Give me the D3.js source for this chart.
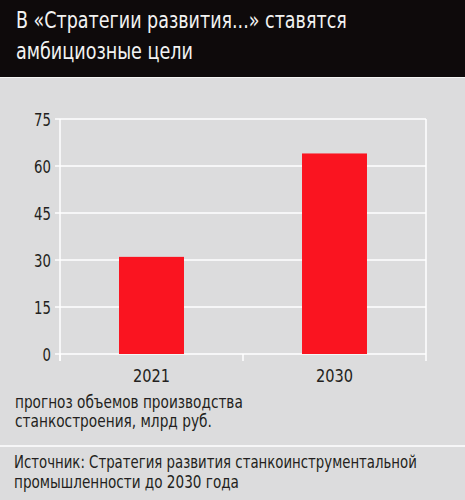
<!DOCTYPE html>
<html>
<head>
<meta charset="utf-8">
<script src="https://cdn.jsdelivr.net/npm/d3@7"></script>
<style>
  body { margin: 0; background: #dcdcdd; }
  svg text { font-family: "DejaVu Sans Condensed", "Liberation Sans Narrow", sans-serif; }
</style>
</head>
<body>
<svg></svg>
<script>
// Chart data
let years = ['2021', '2030'];
let values = [31, 64];
let yTicks = [0, 15, 30, 45, 60, 75];

let titleLines = ['В «Стратегии развития...» ставятся', 'амбициозные цели'];
let noteLines = ['прогноз объемов производства', 'станкостроения, млрд руб.'];
let sourceLines = ['Источник: Стратегия развития станкоинструментальной', 'промышленности до 2030 года'];

// Widths of the text lines as they sit in the layout
let titleWidths = [331, 177];
let noteWidths = [228, 197];
let sourceWidths = [403, 225];

// SVG size
let width = 465, height = 500;
let margin = { left: 60, right: 39, top: 119, bottom: 146 };

let svg = d3.select('svg')
    .attr('width', width)
    .attr('height', height);

// Put a text at (px, py) and squeeze it sideways, either to a given width or by a factor
function placeText(sel, px, py, fit) {
    sel.each(function (d, i) {
        let w = this.getComputedTextLength();
        let k = typeof fit === 'function' ? fit(d, i) / w : fit;
        d3.select(this)
            .attr('x', 0)
            .attr('y', 0)
            .attr('transform', 'translate(' + px(d, i) + ',' + py(d, i) + ') scale(' + k + ',1)');
    });
}

// Background blocks
svg.append('rect').attr('width', width).attr('height', height).attr('fill', '#dcdcdd');
svg.append('rect').attr('width', width).attr('height', 77).attr('fill', '#0e0a0b');
svg.append('line').attr('x1', 0).attr('x2', width).attr('y1', 77.5).attr('y2', 77.5)
    .attr('stroke', '#f4f4f4').attr('stroke-width', 1);
svg.append('line').attr('x1', 0).attr('x2', width).attr('y1', 446).attr('y2', 446)
    .attr('stroke', '#ffffff').attr('stroke-width', 1.5);

// Title
svg.selectAll('.title')
    .data(titleLines)
    .enter()
    .append('text')
    .attr('class', 'title')
    .attr('fill', '#f2f2f2')
    .attr('font-size', 22.5)
    .text(d => d)
    .call(placeText, () => 16, (d, i) => 28 + i * 31, (d, i) => titleWidths[i]);

// Scales
let x = d3.scaleBand()
    .domain(years)
    .range([margin.left, width - margin.right]);

let y = d3.scaleLinear()
    .domain([0, 75])
    .range([height - margin.bottom, margin.top]);

// Grid lines
svg.selectAll('.grid')
    .data(yTicks)
    .enter()
    .append('line')
    .attr('class', 'grid')
    .attr('x1', margin.left - 5)
    .attr('x2', width - margin.right)
    .attr('y1', d => y(d))
    .attr('y2', d => y(d))
    .attr('stroke', '#ffffff')
    .attr('stroke-width', 1.5);

// Y axis line
svg.append('line')
    .attr('x1', margin.left).attr('x2', margin.left)
    .attr('y1', y(75)).attr('y2', y(0) + 7)
    .attr('stroke', '#ffffff').attr('stroke-width', 1.5);

// X axis ticks at band edges (last one is the right border)
let edges = years.map(d => x(d)).concat([width - margin.right]);
svg.selectAll('.xtick')
    .data(edges)
    .enter()
    .append('line')
    .attr('class', 'xtick')
    .attr('x1', d => d).attr('x2', d => d)
    .attr('y1', (d, i) => i === edges.length - 1 ? y(75) : y(0))
    .attr('y2', y(0) + 7)
    .attr('stroke', '#ffffff').attr('stroke-width', 1.5);

// Y tick labels
svg.selectAll('.ylabel')
    .data(yTicks)
    .enter()
    .append('text')
    .attr('class', 'ylabel')
    .attr('text-anchor', 'end')
    .attr('fill', '#231f20')
    .attr('font-size', 18)
    .text(d => d)
    .call(placeText, () => margin.left - 9, d => y(d) + 6.5, 0.82);

// Bars
let barW = x.bandwidth() * 0.355;
svg.selectAll('.bar')
    .data(values)
    .enter()
    .append('rect')
    .attr('class', 'bar')
    .attr('x', (d, i) => x(years[i]) + x.bandwidth() / 2 - barW / 2)
    .attr('y', d => y(d))
    .attr('width', barW)
    .attr('height', d => y(0) - y(d))
    .attr('fill', '#fa1420');

// X labels
svg.selectAll('.xlabel')
    .data(years)
    .enter()
    .append('text')
    .attr('class', 'xlabel')
    .attr('text-anchor', 'middle')
    .attr('fill', '#231f20')
    .attr('font-size', 18)
    .text(d => d)
    .call(placeText, d => x(d) + x.bandwidth() / 2, () => 382, 0.9);

// Note under chart
svg.selectAll('.note')
    .data(noteLines)
    .enter()
    .append('text')
    .attr('class', 'note')
    .attr('fill', '#231f20')
    .attr('font-size', 17)
    .text(d => d)
    .call(placeText, () => 15, (d, i) => 408 + i * 19, (d, i) => noteWidths[i]);

// Source
svg.selectAll('.source')
    .data(sourceLines)
    .enter()
    .append('text')
    .attr('class', 'source')
    .attr('fill', '#231f20')
    .attr('font-size', 18)
    .text(d => d)
    .call(placeText, () => 14, (d, i) => 468 + i * 20, (d, i) => sourceWidths[i]);
</script>
</body>
</html>
